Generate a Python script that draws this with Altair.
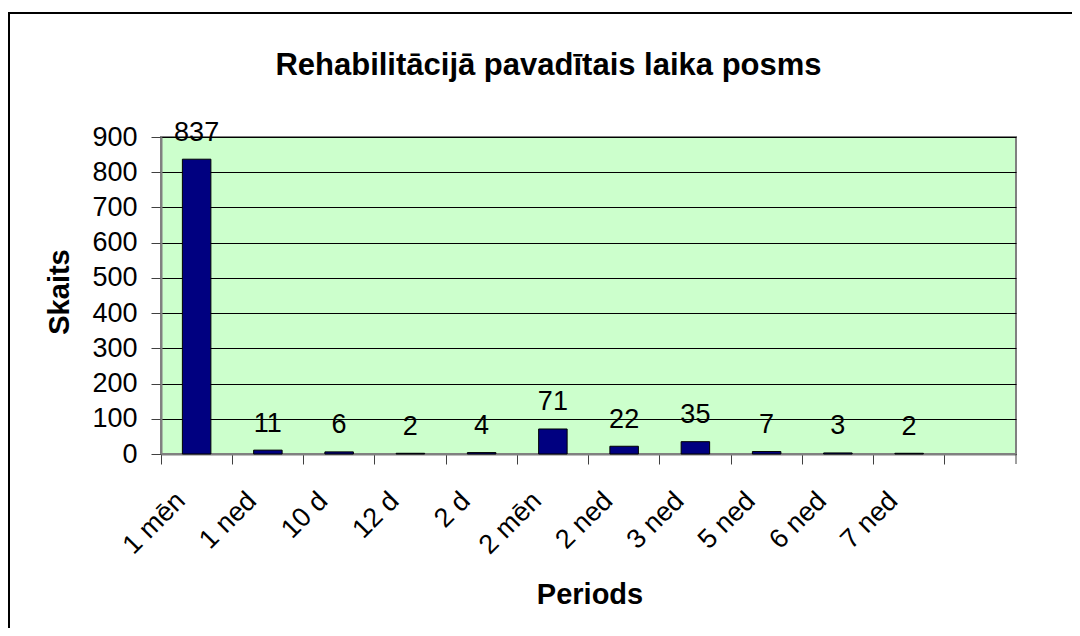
import altair as alt
import pandas as pd

categories = ["1 mēn", "1 ned", "10 d", "12 d", "2 d", "2 mēn", "2 ned", "3 ned", "5 ned", "6 ned", "7 ned"]
counts = [837, 11, 6, 2, 4, 71, 22, 35, 7, 3, 2]
domain_labels = categories + [" "]
y_ticks = list(range(0, 1000, 100))

title_text = "Rehabilitācijā pavadītais laika posms"
x_title = "Periods"
y_title = "Skaits"

FONT = "Liberation Sans"
W, H = 855, 317

df = pd.DataFrame({"period": categories, "count": counts})
one = pd.DataFrame({"a": [0]})

x_scale = alt.Scale(domain=domain_labels, paddingInner=0, paddingOuter=0)
y_scale = alt.Scale(domain=[0, 900], nice=False)

x_axis = alt.Axis(
    title=x_title, titleFont=FONT, titleFontSize=29, titleFontWeight="bold", titleColor="black",
    titleX=428.5, titleY=149, titleBaseline="alphabetic", titleAlign="center",
    bandPosition=0, grid=False,
    domainColor="#808080", domainWidth=2,
    ticks=True, tickSize=10, tickColor="#404040", tickWidth=1,
    labelFont=FONT, labelFontSize=27, labelColor="black",
    labelAngle=-45, labelAlign="right", labelBaseline="alphabetic",
    labelOffset=-10, labelPadding=38, labelFlush=False, labelOverlap=False,
)
y_axis = alt.Axis(
    title=y_title, titleFont=FONT, titleFontSize=29, titleFontWeight="bold", titleColor="black",
    titleX=-93, titleY=154.5, titleAngle=-90, titleBaseline="alphabetic", titleAlign="center",
    values=y_ticks, grid=True, gridColor="black", gridWidth=1,
    domainColor="#808080", domainWidth=2,
    tickSize=10, tickColor="#404040", tickWidth=1,
    labelFont=FONT, labelFontSize=27, labelColor="black", labelPadding=14,
    labelFlush=False, labelOverlap=False,
)

x_enc = alt.X("period:N", sort=None, scale=x_scale, axis=x_axis)
y_enc = alt.Y("count:Q", scale=y_scale, axis=y_axis)

frame = alt.Chart(one).mark_rect(filled=False, stroke="black", strokeWidth=2).encode(
    x=alt.value(-152), y=alt.value(-124), x2=alt.value(2000), y2=alt.value(2000)
)

bars = alt.Chart(df).mark_bar(
    width=alt.RelativeBandSize(0.4), color="#000080", stroke="black", strokeWidth=1
).encode(x=x_enc, y=y_enc)

labels = alt.Chart(df).mark_text(
    font=FONT, fontSize=27, baseline="alphabetic", dy=-18.5, color="black"
).encode(x=x_enc, y=y_enc, text=alt.Text("count:Q"))

end_tick = alt.Chart(one).mark_rule(color="#404040", strokeWidth=1).encode(
    x=alt.value(W), y=alt.value(H), y2=alt.value(H + 10)
)

title = alt.Chart(one).mark_text(
    text=title_text, font=FONT, fontSize=31, fontWeight="bold", color="black",
    align="center", baseline="alphabetic"
).encode(x=alt.value(387.5), y=alt.value(-62))

chart = alt.layer(frame, bars, labels, end_tick, title).properties(
    width=W, height=H,
    background="white",
    padding={"left": 153, "top": 129, "right": 56, "bottom": 174},
    autosize=alt.AutoSizeParams(type="none"),
).configure_view(
    fill="#CCFFCC", stroke="#808080", strokeWidth=2
)

chart.save("out.html", embed_options={"renderer": "svg", "actions": False})
